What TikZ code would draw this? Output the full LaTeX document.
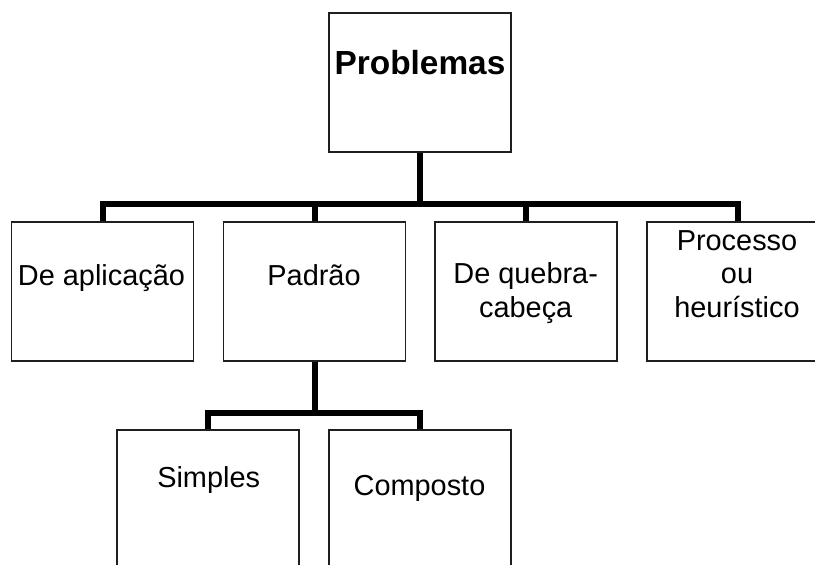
\documentclass[tikz,border=0pt]{standalone}
\usepackage{fontspec}
\setmainfont{Liberation Sans}
\begin{document}
\begin{tikzpicture}[x=1pt,y=-1pt,
  box/.style={draw=black!88,line width=1.5pt,minimum width=182pt,minimum height=139pt,inner sep=0pt,fill=white},
  lbl/.style={anchor=base,inner sep=0pt,font=\fontsize{28.9}{33.5}\selectfont},
  conn/.style={line width=6pt,black,line join=miter}]
\useasboundingbox (0,0) rectangle (815,565);
\clip (0,0) rectangle (815,565);
% boxes
\node[box] (top) at (420,82.5) {};
\node[box] (b1) at (102.5,291.5) {};
\node[box] (b2) at (314.5,291.5) {};
\node[box] (b3) at (526,291.5) {};
\node[box] (b4) at (738,291.5) {};
\node[box] (b5) at (208,499.5) {};
\node[box] (b6) at (420,499.5) {};
% labels
\node[lbl,font=\fontsize{33.4}{38}\selectfont\bfseries] (t0) at (420,74) {Problemas};
\node[lbl] (t1) at (101.5,285) {De aplicação};
\node[lbl] (t2) at (314,285) {Padrão};
\node[lbl] (t3a) at (525.7,283) {De quebra-};
\node[lbl] (t3b) at (525.7,317) {cabeça};
\node[lbl] (t4a) at (737,250) {Processo};
\node[lbl] (t4b) at (737,283.5) {ou};
\node[lbl] (t4c) at (737,317) {heurístico};
\node[lbl] (t5) at (208.7,487) {Simples};
\node[lbl] (t6) at (419.5,495) {Composto};
% connectors
\coordinate (j1) at (420,204);
\coordinate (j2) at (314.5,413);
\draw[conn] (top.south) -- (j1);
\draw[conn] (b1.north) -- (b1.north |- j1) -- (b4.north |- j1) -- (b4.north);
\draw[conn] (b2.north |- j1) -- (b2.north);
\draw[conn] (b3.north |- j1) -- (b3.north);
\draw[conn] (b2.south) -- (j2);
\draw[conn] (b5.north) -- (b5.north |- j2) -- (b6.north |- j2) -- (b6.north);
\end{tikzpicture}
\end{document}
